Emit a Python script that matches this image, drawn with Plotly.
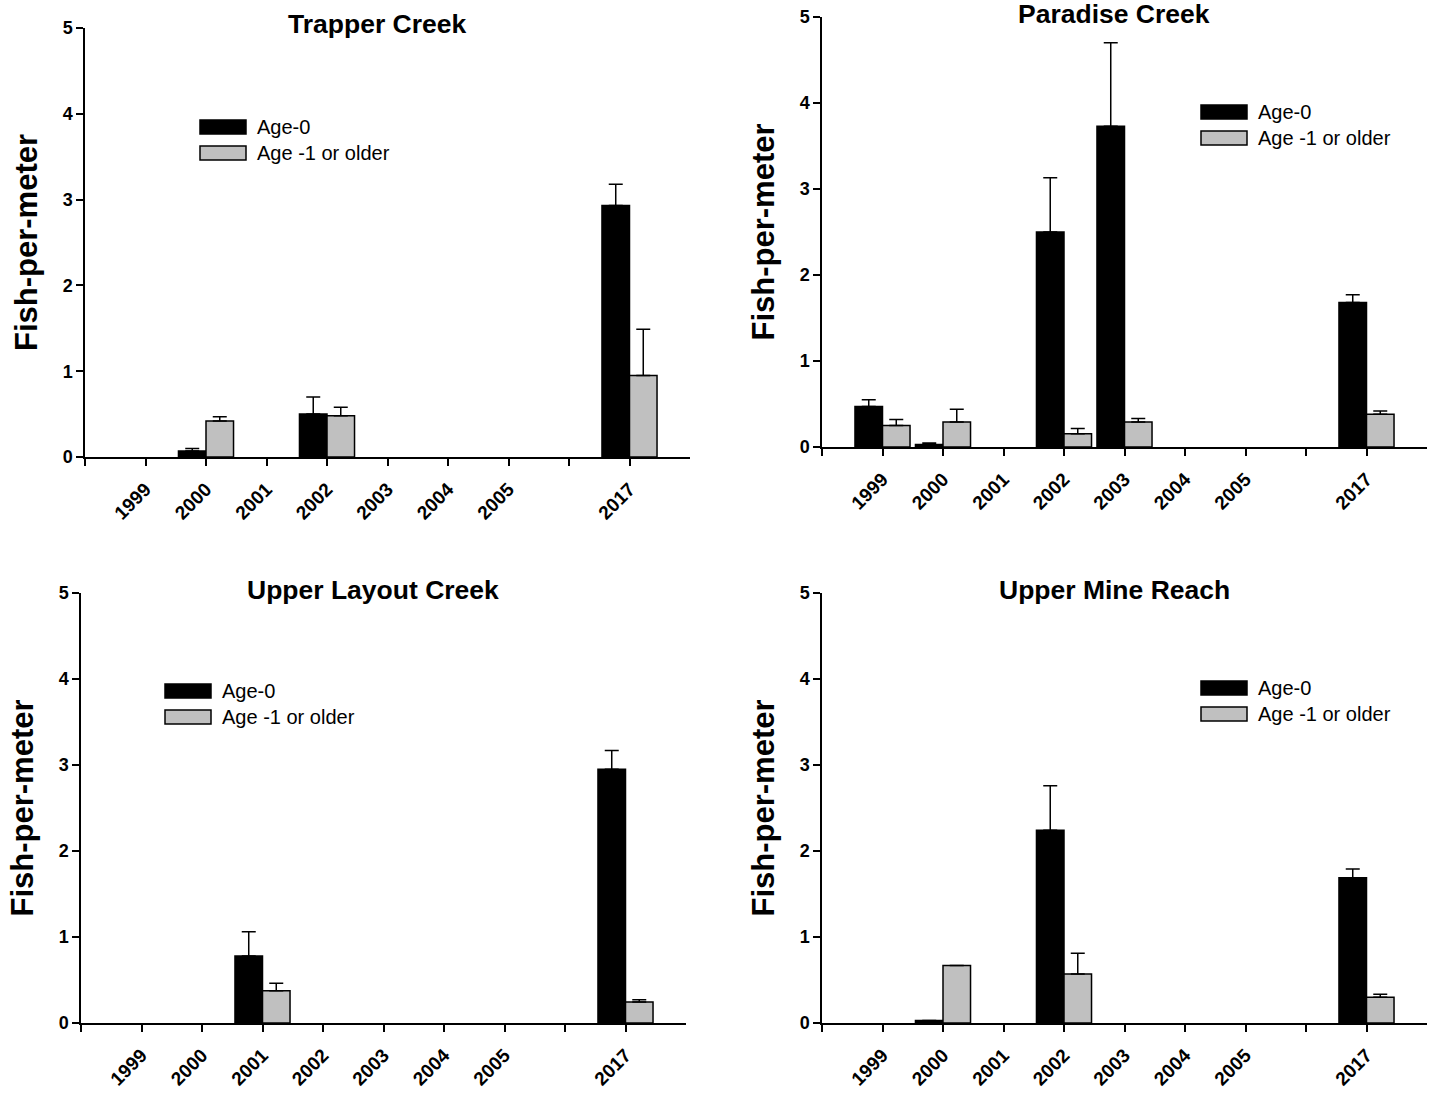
import plotly.graph_objects as go

W, H = 1437, 1093

# ---------------- data ----------------
years = ["1999", "2000", "2001", "2002", "2003", "2004", "2005", "2017"]
# axis slots: leading blank, the years up to 2005, a blank gap, then 2017
categories = ["", "1999", "2000", "2001", "2002", "2003", "2004", "2005", " ", "2017"]

series_names = ["Age-0", "Age -1 or older"]
sites = ["Trapper Creek", "Paradise Creek", "Upper Layout Creek", "Upper Mine Reach"]

# mean fish-per-meter (None = no bar)
trapper_age0     = [None, 0.07, None, 0.50, None, None, None, 2.93]
trapper_age0_err = [None, 0.03, None, 0.20, None, None, None, 0.25]
trapper_age1     = [None, 0.42, None, 0.48, None, None, None, 0.95]
trapper_age1_err = [None, 0.05, None, 0.10, None, None, None, 0.54]

paradise_age0     = [0.47, 0.03, None, 2.50, 3.73, None, None, 1.68]
paradise_age0_err = [0.08, 0.017, None, 0.63, 0.97, None, None, 0.09]
paradise_age1     = [0.25, 0.29, None, 0.155, 0.29, None, None, 0.38]
paradise_age1_err = [0.07, 0.15, None, 0.06, 0.04, None, None, 0.04]

layout_age0     = [None, None, 0.78, None, None, None, None, 2.95]
layout_age0_err = [None, None, 0.28, None, None, None, None, 0.22]
layout_age1     = [None, None, 0.376, None, None, None, None, 0.244]
layout_age1_err = [None, None, 0.085, None, None, None, None, 0.025]

mine_age0     = [None, 0.03, None, 2.24, None, None, None, 1.69]
mine_age0_err = [None, None, None, 0.52, None, None, None, 0.10]
mine_age1     = [None, 0.67, None, 0.57, None, None, None, 0.30]
mine_age1_err = [None, None, None, 0.24, None, None, None, 0.035]

y_ticks = [0, 1, 2, 3, 4, 5]

site_data = [
    (trapper_age0, trapper_age0_err, trapper_age1, trapper_age1_err),
    (paradise_age0, paradise_age0_err, paradise_age1, paradise_age1_err),
    (layout_age0, layout_age0_err, layout_age1, layout_age1_err),
    (mine_age0, mine_age0_err, mine_age1, mine_age1_err),
]

# ---------------- styling / layout ----------------
FONT = "Arial, Liberation Sans, Helvetica, sans-serif"
colors = ["#000000", "#c0c0c0"]

def px_x(p):
    return p / W

def px_y(p):
    return 1 - p / H

# plot-area boxes in pixels: (x0, x1, ytop, ybottom)
boxes = [
    (85, 690, 28, 457),
    (822, 1427, 17, 447),
    (81, 686, 593, 1023),
    (822, 1427, 593, 1023),
]
title_pos = [(377, 24), (1114, 14), (373, 590), (1114, 590)]
legend_pos = [(200, 127), (1201, 112), (165, 691), (1201, 688)]

fig = go.Figure()
shapes = []
annotations = []

for i, (site, data) in enumerate(zip(sites, site_data)):
    n = "" if i == 0 else str(i + 1)
    xa, ya = "x" + n, "y" + n
    a0, e0, a1, e1 = data
    for vals, errs, name, col in [(a0, e0, series_names[0], colors[0]),
                                   (a1, e1, series_names[1], colors[1])]:
        fig.add_trace(go.Bar(
            x=years, y=vals, name=name, xaxis=xa, yaxis=ya,
            marker=dict(color=col, line=dict(color="black", width=1.5)),
            error_y=dict(type="data", array=errs, arrayminus=[0] * len(errs),
                         symmetric=False, color="black", thickness=1.5, width=7),
            showlegend=False,
        ))
    x0, x1, yt, yb = boxes[i]
    fig.update_layout(**{
        "xaxis" + n: dict(
            domain=[px_x(x0), px_x(x1)], anchor=ya, type="category",
            categoryorder="array", categoryarray=categories,
            range=[0, 10], showline=True, linecolor="black", linewidth=1.5,
            ticks="outside", ticklen=7, tickwidth=1.5, tickcolor="black",
            tickangle=-45, showgrid=False, zeroline=False, automargin=False,
            ticklabelstandoff=5,
            tickfont=dict(family=FONT, size=19, color="black", weight="bold"),
        ),
        "yaxis" + n: dict(
            domain=[px_y(yb), px_y(yt)], anchor=xa, range=[0, 5],
            tickvals=y_ticks, showline=True, linecolor="black", linewidth=1.5,
            ticks="outside", ticklen=7, tickwidth=1.5, tickcolor="black",
            showgrid=False, zeroline=False, automargin=False,
            tickfont=dict(family=FONT, size=18, color="black", weight="bold"),
            title=dict(text="Fish-per-meter", standoff=16,
                       font=dict(family=FONT, size=31, color="black", weight="bold")),
        ),
    })
    tx, ty = title_pos[i]
    annotations.append(dict(
        text=site, x=px_x(tx), y=px_y(ty), xref="paper", yref="paper",
        xanchor="center", yanchor="middle", showarrow=False,
        font=dict(family=FONT, size=26.5, color="black", weight="bold"),
    ))
    lx, ly = legend_pos[i]
    for k, (name, col) in enumerate(zip(series_names, colors)):
        cy = ly + 26 * k
        shapes.append(dict(
            type="rect", xref="paper", yref="paper",
            x0=px_x(lx), x1=px_x(lx + 46), y0=px_y(cy - 7), y1=px_y(cy + 7),
            fillcolor=col, line=dict(color="black", width=1.5),
        ))
        annotations.append(dict(
            text=name, x=px_x(lx + 55), y=px_y(cy), xref="paper", yref="paper",
            xanchor="left", yanchor="middle", showarrow=False,
            font=dict(family=FONT, size=20, color="black"),
        ))

fig.update_layout(
    width=W, height=H,
    margin=dict(l=0, r=0, t=0, b=0, pad=0, autoexpand=False),
    paper_bgcolor="white", plot_bgcolor="white",
    barmode="group", bargap=0.09, bargroupgap=0,
    shapes=shapes, annotations=annotations,
    showlegend=False,
)

fig.write_html(
    "out.html",
    config={"displayModeBar": False},
    post_script="document.body.style.margin='0';document.body.style.overflow='hidden';",
)
